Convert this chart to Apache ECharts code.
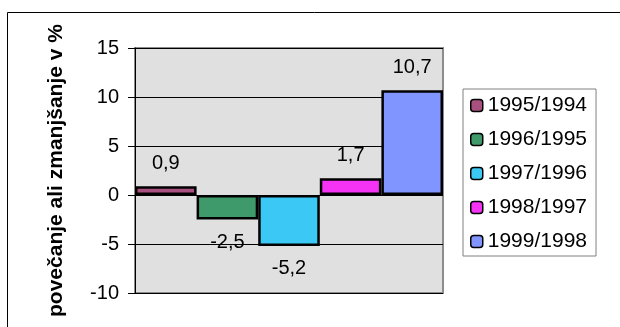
<!DOCTYPE html>
<html>
<head>
<meta charset="utf-8">
<script src="https://cdn.jsdelivr.net/npm/echarts@6/dist/echarts.min.js"></script>
<style>
  html, body { margin: 0; padding: 0; background: #fff; }
  #chart { width: 620px; height: 327px; }
</style>
</head>
<body>
<div id="chart"></div>
<script>
// podatki
const seriesNames = ['1995/1994', '1996/1995', '1997/1996', '1998/1997', '1999/1998'];
const values = [0.9, -2.5, -5.2, 1.7, 10.7];
const colors = ['#a8507f', '#3f9a6b', '#3cc8f4', '#f433f4', '#8095ff'];
const yTicks = { min: -10, max: 15, interval: 5 };
const yTitle = 'povečanje ali zmanjšanje v %';

const font = "'Liberation Sans', Arial, sans-serif";
const chart = echarts.init(document.getElementById('chart'), null, { renderer: 'canvas' });

const series = seriesNames.map((name, i) => ({
  name: name,
  type: 'bar',
  data: [values[i]],
  barGap: '0%',
  barCategoryGap: '0%',
  itemStyle: { color: colors[i], borderColor: '#000', borderWidth: 2.5 },
  label: {
    show: true,
    position: values[i] < 0 ? 'bottom' : 'top',
    distance: 13,
    color: '#000',
    fontFamily: font,
    fontSize: 20,
    formatter: p => String(p.value).replace('.', ',')
  }
}));

const option = {
  animation: false,
  textStyle: { fontFamily: font },
  graphic: [{
    type: 'rect',
    shape: { x: 7.5, y: 12.5, width: 700, height: 400 },
    style: { fill: 'none', stroke: '#000', lineWidth: 1 },
    z: -10
  }],
  grid: {
    left: 135, top: 48, right: 177, bottom: 34,
    show: true,
    backgroundColor: '#e0e0e0',
    borderColor: '#8c8c8c',
    borderWidth: 2
  },
  legend: {
    orient: 'vertical',
    left: 463, top: 89,
    padding: [6, 9, 4, 7],
    itemWidth: 12, itemHeight: 12,
    itemGap: 13,
    borderColor: '#808080', borderWidth: 1,
    backgroundColor: '#fff',
    itemStyle: { borderColor: '#000', borderWidth: 1.5 },
    textStyle: { fontFamily: font, fontSize: 21, color: '#000', lineHeight: 20, padding: [0, 0, 0, 0] },
    data: seriesNames
  },
  xAxis: {
    type: 'category',
    data: [''],
    axisLine: { show: false },
    axisTick: { show: false },
    axisLabel: { show: false }
  },
  yAxis: {
    type: 'value',
    min: yTicks.min, max: yTicks.max, interval: yTicks.interval,
    name: yTitle,
    nameLocation: 'middle',
    nameGap: 68,
    nameTextStyle: { fontFamily: font, fontSize: 21, fontWeight: 'bold', color: '#000' },
    axisLine: { show: true, lineStyle: { color: '#000', width: 1 } },
    axisTick: { show: true, length: 7, lineStyle: { color: '#000' } },
    axisLabel: { fontFamily: font, fontSize: 20, color: '#000', margin: 16 },
    splitLine: { show: true, lineStyle: { color: '#000', width: 1 } }
  },
  series: series
};

chart.setOption(option);
</script>
</body>
</html>
